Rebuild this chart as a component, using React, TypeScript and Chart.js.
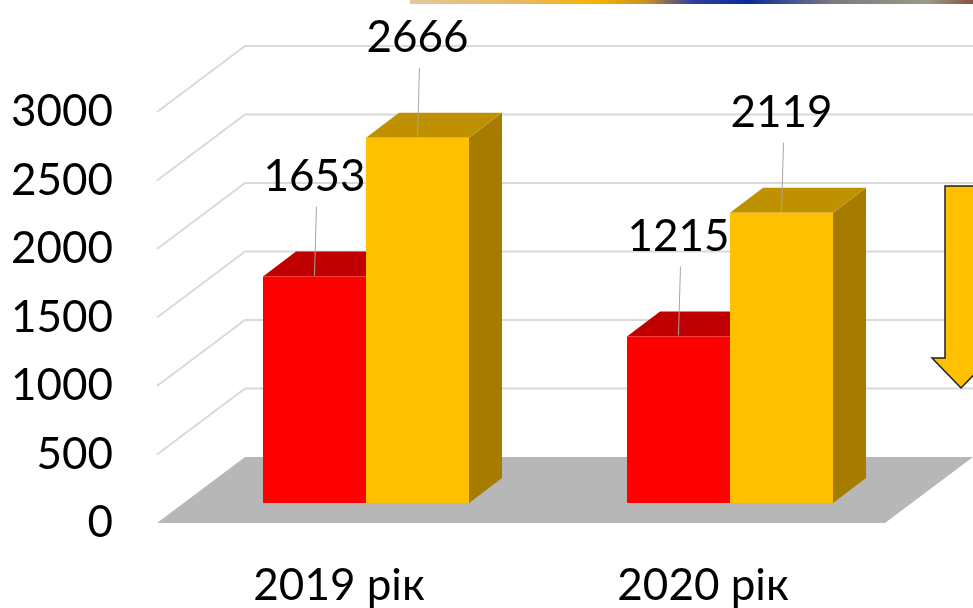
import React, { useEffect, useRef } from "react";
import { Chart, registerables } from "chart.js";

Chart.register(...registerables);

const categories = ["2019 рік", "2020 рік"];
const seriesRed = [1653, 1215];
const seriesGold = [2666, 2119];
const yTicks = [0, 500, 1000, 1500, 2000, 2500, 3000];

const FONT = "Lato, 'Open Sans', sans-serif";
const FONT_SIZE = 44;

// 3D projection offsets
const DEPTH_X = 88;
const DEPTH_Y = -66;
const BAR_OFF_X = 27;
const BAR_OFF_Y = -20;
const BAR_D_X = 33;
const BAR_D_Y = -25;

const frontColors = ["#FF0000", "#FFC000"];
const topColors = ["#C00000", "#BF9000"];
const sideColors = ["#A00000", "#A67C00"];

const threeD = {
  id: "threeD",
  beforeDatasetsDraw(chart: any) {
    const { ctx, chartArea: a, scales } = chart;
    const ys = scales.y;
    ctx.save();
    ctx.strokeStyle = "#D9D9D9";
    ctx.lineWidth = 2;
    yTicks.forEach((v) => {
      if (v === 0) return;
      const py = ys.getPixelForValue(v);
      ctx.beginPath();
      ctx.moveTo(a.left, py);
      ctx.lineTo(a.left + DEPTH_X, py + DEPTH_Y);
      ctx.lineTo(a.right + DEPTH_X, py + DEPTH_Y);
      ctx.stroke();
    });
    const p0 = ys.getPixelForValue(0);
    ctx.fillStyle = "#B7B7B7";
    ctx.beginPath();
    ctx.moveTo(a.left, p0);
    ctx.lineTo(a.left + DEPTH_X, p0 + DEPTH_Y);
    ctx.lineTo(a.right + DEPTH_X, p0 + DEPTH_Y);
    ctx.lineTo(a.right, p0);
    ctx.closePath();
    ctx.fill();
    ctx.restore();

    ctx.save();
    ctx.translate(BAR_OFF_X, BAR_OFF_Y);
    chart.data.datasets.forEach((_ds: any, i: number) => {
      const meta = chart.getDatasetMeta(i);
      meta.data.forEach((el: any) => {
        const { x, y: top, base, width } = el.getProps(["x", "y", "base", "width"], true);
        const l = x - width / 2;
        const r = x + width / 2;
        ctx.fillStyle = sideColors[i];
        ctx.beginPath();
        ctx.moveTo(r, top);
        ctx.lineTo(r + BAR_D_X, top + BAR_D_Y);
        ctx.lineTo(r + BAR_D_X, base + BAR_D_Y);
        ctx.lineTo(r, base);
        ctx.closePath();
        ctx.fill();
        ctx.fillStyle = topColors[i];
        ctx.beginPath();
        ctx.moveTo(l, top);
        ctx.lineTo(l + BAR_D_X, top + BAR_D_Y);
        ctx.lineTo(r + BAR_D_X, top + BAR_D_Y);
        ctx.lineTo(r, top);
        ctx.closePath();
        ctx.fill();
      });
    });
  },
  afterDatasetsDraw(chart: any) {
    const { ctx } = chart;
    ctx.restore();
    ctx.save();
    ctx.font = `${FONT_SIZE}px ${FONT}`;
    ctx.textAlign = "center";
    ctx.textBaseline = "middle";
    chart.data.datasets.forEach((ds: any, i: number) => {
      const meta = chart.getDatasetMeta(i);
      meta.data.forEach((el: any, j: number) => {
        const { x, y: top } = el.getProps(["x", "y"], true);
        const fx = x + BAR_OFF_X;
        const fy = top + BAR_OFF_Y;
        ctx.strokeStyle = "#A6A6A6";
        ctx.lineWidth = 1;
        ctx.beginPath();
        ctx.moveTo(fx + 2, fy - 70);
        ctx.lineTo(fx, fy - 1);
        ctx.stroke();
        ctx.fillStyle = "#000";
        ctx.fillText(String(ds.data[j]), fx, fy - 100);
      });
    });
    ctx.restore();
  },
  afterDraw(chart: any) {
    const { ctx } = chart;
    ctx.save();
    const g = ctx.createLinearGradient(410, 0, 973, 0);
    g.addColorStop(0, "#E2C89C");
    g.addColorStop(0.2, "#E8B860");
    g.addColorStop(0.33, "#F5B400");
    g.addColorStop(0.42, "#C89020");
    g.addColorStop(0.5, "#3040A0");
    g.addColorStop(0.6, "#0A2A9A");
    g.addColorStop(0.75, "#7A7A80");
    g.addColorStop(0.92, "#9A9A88");
    g.addColorStop(1, "#8A5040");
    ctx.fillStyle = g;
    ctx.fillRect(410, 0, 563, 4);
    ctx.fillStyle = "#FFC000";
    ctx.strokeStyle = "#202020";
    ctx.lineWidth = 1.5;
    ctx.beginPath();
    ctx.moveTo(945, 186);
    ctx.lineTo(977, 186);
    ctx.lineTo(977, 358);
    ctx.lineTo(990, 358);
    ctx.lineTo(961, 388);
    ctx.lineTo(932, 358);
    ctx.lineTo(945, 358);
    ctx.closePath();
    ctx.fill();
    ctx.stroke();
    ctx.restore();
  },
};

export default function App() {
  const ref = useRef<HTMLCanvasElement | null>(null);
  useEffect(() => {
    document.body.style.margin = "0";
    const canvas = ref.current;
    if (!canvas) return;
    const chart = new Chart(canvas, {
      type: "bar",
      data: {
        labels: categories,
        datasets: [
          { label: "red", data: seriesRed, backgroundColor: frontColors[0], borderWidth: 0 },
          { label: "gold", data: seriesGold, backgroundColor: frontColors[1], borderWidth: 0 },
        ],
      },
      options: {
        responsive: false,
        animation: false,
        devicePixelRatio: 1,
        layout: { padding: { top: 112, right: 88, left: 0, bottom: 0 } },
        datasets: { bar: { categoryPercentage: 0.566, barPercentage: 1 } },
        plugins: { legend: { display: false }, tooltip: { enabled: false } },
        scales: {
          x: {
            grid: { display: false, drawTicks: false },
            border: { display: false },
            ticks: { font: { family: FONT, size: FONT_SIZE }, color: "#000", padding: 36 },
            afterFit: (s: any) => {
              s.height = 85;
            },
          },
          y: {
            min: 0,
            max: 3000,
            afterBuildTicks: (s: any) => {
              s.ticks = yTicks.map((v) => ({ value: v }));
            },
            grid: { display: false, drawTicks: false },
            border: { display: false },
            ticks: {
              font: { family: FONT, size: FONT_SIZE },
              color: "#000",
              padding: 44,
              callback: (v: any) => String(v),
            },
            afterFit: (s: any) => {
              s.width = 157;
            },
          },
        },
      },
      plugins: [threeD],
    } as any);
    return () => chart.destroy();
  }, []);
  return (
    <div style={{ width: 973, height: 608, background: "#fff" }}>
      <canvas ref={ref} width={973} height={608} style={{ display: "block", width: 973, height: 608 }} />
    </div>
  );
}
